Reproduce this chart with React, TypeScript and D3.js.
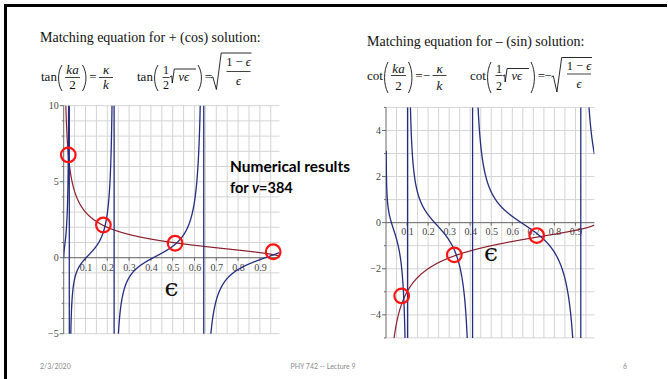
import React from "react";
import * as d3 from "d3";

// Physical parameter of the well and the sampled range of epsilon
const NU = 384;
const EPS_MAX = 0.99;

// Tick values
const X_TICKS = [0.1, 0.2, 0.3, 0.4, 0.5, 0.6, 0.7, 0.8, 0.9];
const LEFT_Y_TICKS = [-5, 0, 5, 10];
const RIGHT_Y_TICKS = [-4, -2, 0, 2, 4];

// Marked intersections (epsilon, value)
const EVEN_ROOT_EPS = [0.021, 0.182, 0.511, 0.961];
const EVEN_ROOT_VAL = [6.76, 2.15, 0.95, 0.39];
const ODD_ROOT_EPS = [0.0746, 0.3245, 0.716];
const ODD_ROOT_VAL = [-3.18, -1.4, -0.56];

const BLUE = "#232c7e";
const MAROON = "#8a1f2c";
const RING = "#ff1414";
const GRID = "#d4d4d4";
const AXIS = "#6a6a6a";
const SERIF = "'Liberation Serif', 'Times New Roman', serif";
const SANS = "Lato, 'Open Sans', sans-serif";

const halfArg = (e: number) => 0.5 * Math.sqrt(NU * e);
const lhsEven = (e: number) => Math.tan(halfArg(e));
const lhsOdd = (e: number) => 1 / Math.tan(halfArg(e));
const rhsEven = (e: number) => Math.sqrt((1 - e) / e);
const rhsOdd = (e: number) => -Math.sqrt((1 - e) / e);

const sample = (f: (e: number) => number, start: number, step = 0.0002) => {
  const xs = d3.range(start, EPS_MAX, step);
  xs.push(EPS_MAX);
  return xs.map((e) => [e, Math.max(-200, Math.min(200, f(e)))] as [number, number]);
};

type PlotProps = {
  id: string;
  x0: number;
  x1: number;
  yTop: number;
  yBot: number;
  yDomain: [number, number];
  yTicks: number[];
  lhs: (e: number) => number;
  rhs: (e: number) => number;
  lhsStart: number;
  rhsStart: number;
  rootEps: number[];
  rootVal: number[];
  labelDy: number;
};

function Plot(p: PlotProps) {
  const x = d3.scaleLinear().domain([0, EPS_MAX]).range([p.x0, p.x1]);
  const y = d3.scaleLinear().domain(p.yDomain).range([p.yBot, p.yTop]);
  const line = d3
    .line<[number, number]>()
    .x((d) => x(d[0]))
    .y((d) => y(d[1]));
  const vGrid = d3.range(1, 20).map((i) => i * 0.05);
  const hGrid = d3.range(Math.ceil(p.yDomain[0]), Math.floor(p.yDomain[1]) + 1);
  const y0 = y(0);
  return (
    <g>
      <defs>
        <clipPath id={p.id}>
          <rect x={p.x0} y={p.yTop} width={p.x1 - p.x0} height={p.yBot - p.yTop} />
        </clipPath>
      </defs>
      {vGrid.map((v) => (
        <line key={"v" + v} x1={x(v)} x2={x(v)} y1={p.yTop} y2={p.yBot} stroke={GRID} strokeWidth={1} />
      ))}
      {hGrid.map((v) => (
        <line key={"h" + v} x1={p.x0} x2={p.x1} y1={y(v)} y2={y(v)} stroke={GRID} strokeWidth={1} />
      ))}
      <line x1={p.x0} x2={p.x0} y1={p.yTop} y2={p.yBot} stroke={AXIS} strokeWidth={1} />
      <line x1={p.x0} x2={p.x1} y1={y0} y2={y0} stroke={AXIS} strokeWidth={1} />
      {hGrid.map((v) => (
        <line
          key={"t" + v}
          x1={p.x0 - (p.yTicks.includes(v) ? 4 : 2)}
          x2={p.x0}
          y1={y(v)}
          y2={y(v)}
          stroke={AXIS}
          strokeWidth={1}
        />
      ))}
      {X_TICKS.map((v) => (
        <line key={"xt" + v} x1={x(v)} x2={x(v)} y1={y0} y2={y0 + 3} stroke={AXIS} strokeWidth={1} />
      ))}
      {p.yTicks.map((v) => (
        <text
          key={"yl" + v}
          x={p.x0 - 5}
          y={y(v) + 3.5}
          textAnchor="end"
          fontFamily={SERIF}
          fontSize={10}
          fill="#444"
        >
          {v < 0 ? "\u2212" + Math.abs(v) : String(v)}
        </text>
      ))}
      {X_TICKS.map((v) => (
        <text
          key={"xl" + v}
          x={x(v) + 0.5}
          y={y0 + p.labelDy}
          textAnchor="middle"
          fontFamily={SERIF}
          fontSize={10}
          fill="#444"
        >
          {String(v)}
        </text>
      ))}
      <g clipPath={`url(#${p.id})`}>
        <path d={line(sample(p.rhs, p.rhsStart)) || ""} fill="none" stroke={MAROON} strokeWidth={1.2} />
        <path d={line(sample(p.lhs, p.lhsStart)) || ""} fill="none" stroke={BLUE} strokeWidth={1.3} />
      </g>
      {p.rootEps.map((e, i) => (
        <circle key={"r" + i} cx={x(e)} cy={y(p.rootVal[i])} r={7.3} fill="none" stroke={RING} strokeWidth={2.2} />
      ))}
    </g>
  );
}

// Tall parenthesis drawn as a stroke
function Paren({ x, top, bot, right }: { x: number; top: number; bot: number; right?: boolean }) {
  const w = 4;
  const h = bot - top;
  const d = right
    ? `M${x} ${top} C${x + w + 0.6} ${top + h * 0.28} ${x + w + 0.6} ${bot - h * 0.28} ${x} ${bot}`
    : `M${x + w} ${top} C${x - 0.6} ${top + h * 0.28} ${x - 0.6} ${bot - h * 0.28} ${x + w} ${bot}`;
  return <path d={d} fill="none" stroke="#111" strokeWidth={0.9} />;
}

function Radical({ x, yMid, yBot, yTop, xEnd }: { x: number; yMid: number; yBot: number; yTop: number; xEnd: number }) {
  const w = Math.min(6, (yBot - yTop) * 0.18);
  return (
    <path
      d={`M${x} ${yMid} L${x + 1.8} ${yMid - 1.1} L${x + w * 0.9} ${yBot} L${x + w * 1.7} ${yTop} L${xEnd} ${yTop}`}
      fill="none"
      stroke="#111"
      strokeWidth={0.9}
    />
  );
}

const T = (props: any) => <text fontFamily={SERIF} fill="#111" {...props} />;

type EqGeom = {
  base: number;
  pTop: number;
  pBot: number;
  num: number;
  bar: number;
  den: number;
  rootTop: number;
  bigTop: number;
  bigNum: number;
  bigBar: number;
  bigDen: number;
  bigBot: number;
};

// Matching equation pair: f(ka/2) = ±κ/k and f(½√(νϵ)) = ±√((1−ϵ)/ϵ)
function Equations({ xa, xb, fn, neg, g }: { xa: number; xb: number; fn: string; neg: boolean; g: EqGeom }) {
  const m = neg ? 7.5 : 0;
  const fs = 13;
  return (
    <g>
      <T x={xa} y={g.base} fontSize={fs}>{fn}</T>
      <Paren x={xa + 17} top={g.pTop} bot={g.pBot} />
      <T x={xa + 31.5} y={g.num} fontSize={fs} textAnchor="middle" fontStyle="italic">ka</T>
      <line x1={xa + 24} x2={xa + 39} y1={g.bar} y2={g.bar} stroke="#111" strokeWidth={0.8} />
      <T x={xa + 31.5} y={g.den} fontSize={fs} textAnchor="middle">2</T>
      <Paren x={xa + 41.5} top={g.pTop} bot={g.pBot} right />
      <T x={xa + 52} y={g.base} fontSize={fs} textAnchor="middle">=</T>
      {neg && (
        <T x={xa + 59.5} y={g.base} fontSize={fs} textAnchor="middle">−</T>
      )}
      <T x={xa + 65 + m} y={g.num} fontSize={fs} textAnchor="middle" fontStyle="italic">κ</T>
      <line x1={xa + 58 + m} x2={xa + 72 + m} y1={g.bar} y2={g.bar} stroke="#111" strokeWidth={0.8} />
      <T x={xa + 65 + m} y={g.den} fontSize={fs} textAnchor="middle" fontStyle="italic">k</T>

      <T x={xb} y={g.base} fontSize={fs}>{fn}</T>
      <Paren x={xb + 17} top={g.pTop} bot={g.pBot} />
      <T x={xb + 29} y={g.num} fontSize={12} textAnchor="middle">1</T>
      <line x1={xb + 25.5} x2={xb + 32.5} y1={g.bar} y2={g.bar} stroke="#111" strokeWidth={0.8} />
      <T x={xb + 29} y={g.den} fontSize={12} textAnchor="middle">2</T>
      <Radical x={xb + 33} yMid={g.base - 4} yBot={g.base + 2} yTop={g.rootTop} xEnd={xb + 59} />
      <T x={xb + 41.5} y={g.base} fontSize={12.5} fontStyle="italic">νϵ</T>
      <Paren x={xb + 61} top={g.pTop} bot={g.pBot} right />
      <T x={xb + 71.5} y={g.base} fontSize={fs} textAnchor="middle">=</T>
      {neg && (
        <T x={xb + 78} y={g.base} fontSize={fs} textAnchor="middle">−</T>
      )}
      <Radical x={xb + 74 + m} yMid={g.base - 3} yBot={g.bigBot} yTop={g.bigTop} xEnd={xb + 114.5 + m} />
      <T x={xb + 101.5 + m} y={g.bigNum} fontSize={12.5} textAnchor="middle">
        1 − <tspan fontStyle="italic">ϵ</tspan>
      </T>
      <line x1={xb + 89.5 + m} x2={xb + 113.5 + m} y1={g.bigBar} y2={g.bigBar} stroke="#111" strokeWidth={0.8} />
      <T x={xb + 101.5 + m} y={g.bigDen} fontSize={12.5} textAnchor="middle" fontStyle="italic">ϵ</T>
    </g>
  );
}

const LEFT_EQ: EqGeom = {
  base: 81,
  pTop: 65,
  pBot: 91,
  num: 74,
  bar: 77.5,
  den: 89,
  rootTop: 69,
  bigTop: 53,
  bigNum: 66,
  bigBar: 71.5,
  bigDen: 84.5,
  bigBot: 89.5,
};

const RIGHT_EQ: EqGeom = {
  base: 80,
  pTop: 62,
  pBot: 93,
  num: 72.5,
  bar: 75.5,
  den: 90,
  rootTop: 68.5,
  bigTop: 57.5,
  bigNum: 69.5,
  bigBar: 74,
  bigDen: 88,
  bigBot: 92,
};

export default function App() {
  return (
    <svg
      width={668}
      height={379}
      viewBox="0 0 668 379"
      style={{ position: "absolute", left: 0, top: 0, background: "#fff" }}
    >
      <rect x={0} y={0} width={668} height={379} fill="#fff" />
      {/* slide frame */}
      <rect x={4} y={4} width={3} height={375} fill="#000" />
      <rect x={4} y={4} width={663} height={3} fill="#000" />

      {/* headings */}
      <T x={40} y={42} fontSize={14}>Matching equation for + (cos) solution:</T>
      <T x={367} y={45.5} fontSize={14}>Matching equation for {"\u2013"} (sin) solution:</T>

      <Equations xa={41} xb={137} fn="tan" neg={false} g={LEFT_EQ} />
      <Equations xa={367} xb={470} fn="cot" neg={true} g={RIGHT_EQ} />

      <Plot
        id="clip-even"
        x0={63.7}
        x1={279.5}
        yTop={105.7}
        yBot={333.7}
        yDomain={[-5, 10]}
        yTicks={LEFT_Y_TICKS}
        lhs={lhsEven}
        rhs={rhsEven}
        lhsStart={0}
        rhsStart={0.005}
        rootEps={EVEN_ROOT_EPS}
        rootVal={EVEN_ROOT_VAL}
        labelDy={13.5}
      />
      <Plot
        id="clip-odd"
        x0={386}
        x1={594.4}
        yTop={107.4}
        yBot={337.9}
        yDomain={[-5, 5]}
        yTicks={RIGHT_Y_TICKS}
        lhs={lhsOdd}
        rhs={rhsOdd}
        lhsStart={0.001}
        rhsStart={0.02}
        rootEps={ODD_ROOT_EPS}
        rootVal={ODD_ROOT_VAL}
        labelDy={12.5}
      />

      {/* axis variable */}
      <text x={171.5} y={296} fontSize={25} textAnchor="middle" fontFamily="'DejaVu Serif', serif" fill="#111">ϵ</text>
      <text x={491} y={261} fontSize={25} textAnchor="middle" fontFamily="'DejaVu Serif', serif" fill="#111">ϵ</text>

      {/* annotation */}
      <text x={230} y={172} fontSize={14.5} fontWeight="bold" fontFamily={SANS} fill="#000" textLength={120} lengthAdjust="spacingAndGlyphs">
        Numerical results
      </text>
      <text x={230} y={193} fontSize={14.5} fontWeight="bold" fontFamily={SANS} fill="#000">
        for <tspan fontStyle="italic">v</tspan>=384
      </text>

      {/* footer */}
      <text x={40} y={369} fontSize={7} fontFamily={SANS} fill="#8a8a8a">2/3/2020</text>
      <text x={323} y={369} fontSize={7} textAnchor="middle" fontFamily={SANS} fill="#8a8a8a">
        PHY 742 -- Lecture 9
      </text>
      <text x={623} y={369} fontSize={7} fontFamily={SANS} fill="#8a8a8a">6</text>
    </svg>
  );
}
